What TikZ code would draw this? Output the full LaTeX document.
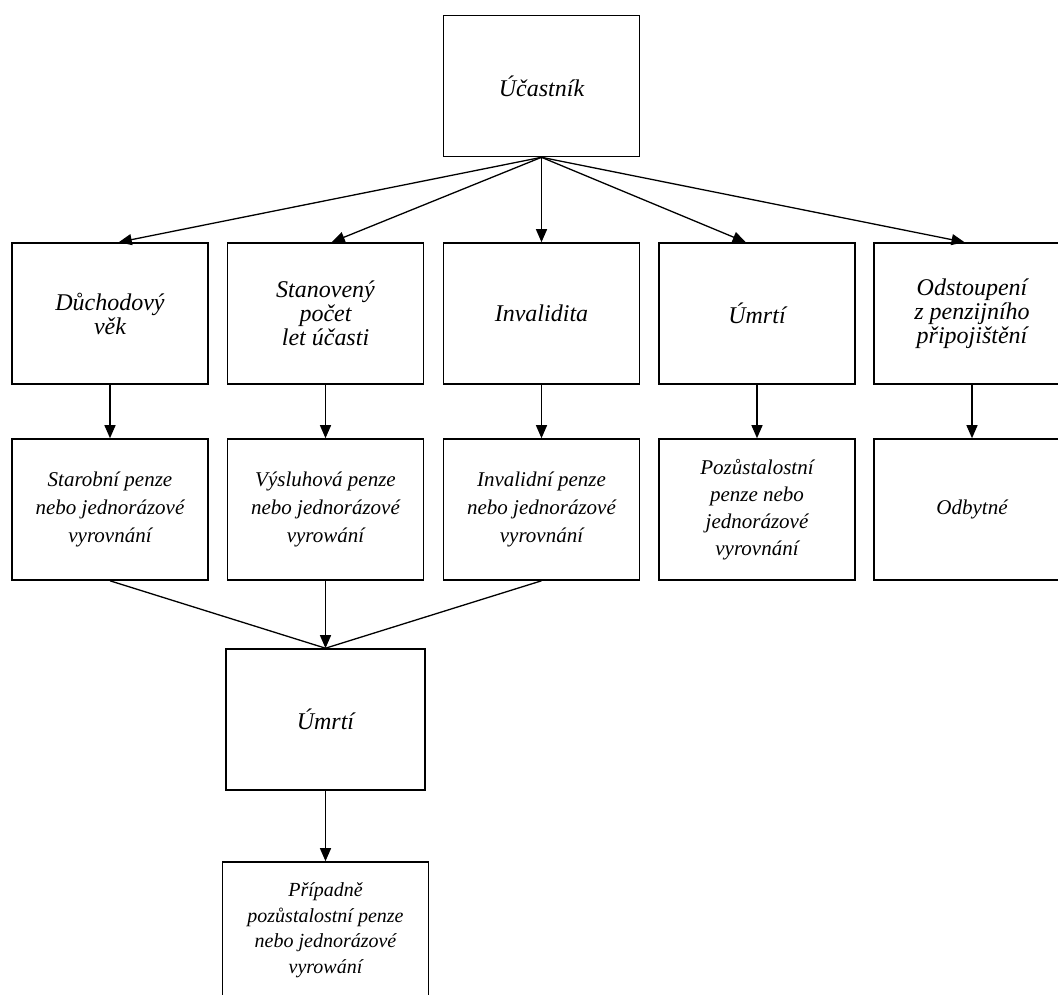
\documentclass[tikz,border=0pt]{standalone}
\usepackage{fontspec}
\setmainfont{Liberation Serif}
\usetikzlibrary{arrows.meta}

\begin{document}
\begin{tikzpicture}[x=1pt, y=-1pt,
    every node/.style={font=\itshape, align=center, inner sep=0pt},
    box/.style={draw, line width=1.6pt, minimum width=196pt, minimum height=141pt},
    big/.style={font=\itshape\fontsize{24}{24}\selectfont},
    small/.style={font=\itshape\fontsize{21}{28}\selectfont},
    conn/.style={line width=1.3pt},
    arr/.style={conn, -{Triangle[length=13pt, width=11pt]}}]
    \useasboundingbox (0, 0) rectangle (1058, 994);

    % top
    \node [box, big] (ucastnik) at (541.5, 86) {Účastník};

    % events
    \node [box, big] (d1) at (110, 313.5) {Důchodový\\věk};
    \node [box, big] (d2) at (325.5, 313.5) {Stanovený\\počet\\let účasti};
    \node [box, big] (d3) at (541.5, 313.5) {Invalidita};
    \node [box, big] (d4) at (757, 313.5) {Úmrtí};
    \node [box, big] (d5) at (972, 313.5) {Odstoupení\\z penzijního\\připojištění};

    % benefits
    \node [box, small] (s1) at (110, 509.5) {Starobní penze\\nebo jednorázové\\vyrovnání};
    \node [box, small] (s2) at (325.5, 509.5) {Výsluhová penze\\nebo jednorázové\\vyrowání};
    \node [box, small] (s3) at (541.5, 509.5) {Invalidní penze\\nebo jednorázové\\vyrovnání};
    \node [box, font=\itshape\fontsize{21}{27}\selectfont] (s4) at (757, 509.5) {Pozůstalostní\\penze nebo\\jednorázové\\vyrovnání};
    \node [box, small] (s5) at (972, 509.5) {Odbytné};

    \node [box, big, minimum width=199pt] (umrti) at (325.5, 719.5) {Úmrtí};
    \node [box, font=\itshape\fontsize{20}{25.5}\selectfont, minimum width=206pt, minimum height=136pt] (pripadne) at (325.5, 930)
        {Případně\\pozůstalostní penze\\nebo jednorázové\\vyrowání};

    \draw [arr] (ucastnik.south) -- (d1.83.5);
    \draw [arr] (ucastnik.south) -- (d2.85.5);
    \draw [arr] (ucastnik.south) -- (d3.north);
    \draw [arr] (ucastnik.south) -- (d4.99);
    \draw [arr] (ucastnik.south) -- (d5.96);

    \draw [arr] (d1.south) -- (s1.north);
    \draw [arr] (d2.south) -- (s2.north);
    \draw [arr] (d3.south) -- (s3.north);
    \draw [arr] (d4.south) -- (s4.north);
    \draw [arr] (d5.south) -- (s5.north);

    \draw [conn] (s1.south) -- (umrti.north);
    \draw [conn] (s3.south) -- (umrti.north);
    \draw [arr] (s2.south) -- (umrti.north);
    \draw [arr] (umrti.south) -- (pripadne.north);
  \end{tikzpicture}
\end{document}
